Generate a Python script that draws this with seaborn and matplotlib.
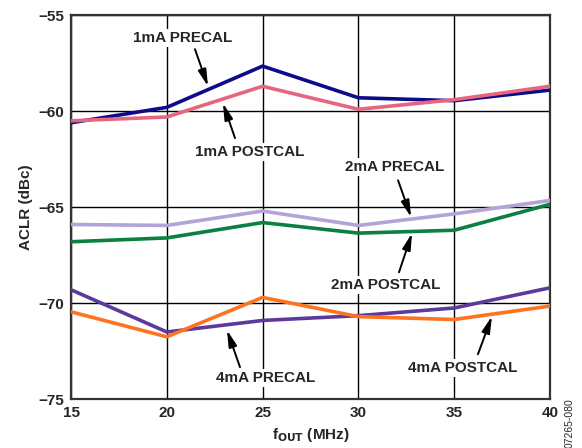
import pandas as pd
import matplotlib.pyplot as plt
import seaborn as sns

# f_OUT (MHz)
freq = [15, 20, 25, 30, 35, 40]

# ACLR (dBc) per bias current / calibration state
aclr_1ma_precal = [-60.6, -59.8, -57.65, -59.3, -59.45, -58.9]
aclr_1ma_postcal = [-60.5, -60.3, -58.7, -59.9, -59.4, -58.7]
aclr_2ma_precal = [-65.9, -65.95, -65.2, -65.95, -65.35, -64.65]
aclr_2ma_postcal = [-66.8, -66.6, -65.8, -66.35, -66.2, -64.85]
aclr_4ma_precal = [-69.3, -71.5, -70.9, -70.65, -70.25, -69.2]
aclr_4ma_postcal = [-70.45, -71.75, -69.7, -70.7, -70.85, -70.15]

series_names = ["1mA PRECAL", "1mA POSTCAL", "2mA PRECAL",
                "2mA POSTCAL", "4mA PRECAL", "4mA POSTCAL"]
series_values = [aclr_1ma_precal, aclr_1ma_postcal, aclr_2ma_precal,
                 aclr_2ma_postcal, aclr_4ma_precal, aclr_4ma_postcal]
colors = ["#0c0c8a", "#e8657f", "#b3a3d6", "#0a8042", "#5b3a9c", "#ff7320"]

x_ticks = [15, 20, 25, 30, 35, 40]
y_ticks = [-75, -70, -65, -60, -55]

# label text, text position, arrow tail, arrow tip (data coords)
annotations = [
    ("1mA PRECAL", (20.8, -56.2), (21.47, -56.77), (22.15, -58.7)),
    ("1mA POSTCAL", (24.34, -62.13), (23.56, -61.4), (22.93, -59.58)),
    ("2mA PRECAL", (31.9, -62.9), (32.07, -63.6), (32.75, -65.52)),
    ("2mA POSTCAL", (31.44, -69.06), (32.12, -68.39), (32.8, -66.35)),
    ("4mA PRECAL", (25.18, -73.9), (23.82, -73.33), (23.14, -71.4)),
    ("4mA POSTCAL", (35.46, -73.39), (36.24, -72.66), (36.97, -70.68)),
]

rows = []
for name, vals in zip(series_names, series_values):
    for f, v in zip(freq, vals):
        rows.append({"freq": f, "aclr": v, "series": name})
df = pd.DataFrame(rows)

sns.set_style("white")
plt.rcParams["font.family"] = ["Liberation Sans", "DejaVu Sans"]
plt.rcParams["font.weight"] = "bold"

fig = plt.figure(figsize=(5.82, 4.48), dpi=100)
ax = fig.add_axes([0.122, 0.109, 0.823, 0.857])

sns.lineplot(data=df, x="freq", y="aclr", hue="series", hue_order=series_names,
             palette=colors, linewidth=2.6, legend=False, ax=ax, zorder=3)

ax.set_xlim(15, 40)
ax.set_ylim(-75, -55)
ax.set_xticks(x_ticks)
ax.set_yticks(y_ticks)
ax.set_xticklabels([str(t) for t in x_ticks], fontsize=11, fontweight="bold")
ax.set_yticklabels([f"\u2212{abs(t)}" for t in y_ticks], fontsize=11, fontweight="bold")
ax.grid(True, color="black", linewidth=1.0, zorder=1)
ax.set_axisbelow(True)
ax.tick_params(axis="both", length=0, pad=5)
for s in ax.spines.values():
    s.set_color("#333333")
    s.set_linewidth(1.6)

ax.set_ylabel("ACLR (dBc)", fontsize=11, fontweight="bold", labelpad=4)
ax.set_xlabel(r"f$_{\mathbf{OUT}}$ (MHz)", fontsize=11, fontweight="bold", labelpad=4)

for label, txt_pos, tail, tip in annotations:
    ax.annotate("", xy=tip, xytext=tail,
                arrowprops=dict(arrowstyle="-|>,head_length=1.0,head_width=0.25",
                                color="black", lw=1.4, shrinkA=0, shrinkB=0),
                zorder=5)
    ax.text(txt_pos[0], txt_pos[1], label, ha="center", va="center",
            fontsize=11, fontweight="bold", zorder=6,
            bbox=dict(facecolor="white", edgecolor="none", pad=1.5))

fig.text(0.978, 0.055, "07265-080", rotation=90, ha="center", va="center",
         fontsize=7.5, fontweight="normal")

fig.savefig("out.png", dpi=100)
